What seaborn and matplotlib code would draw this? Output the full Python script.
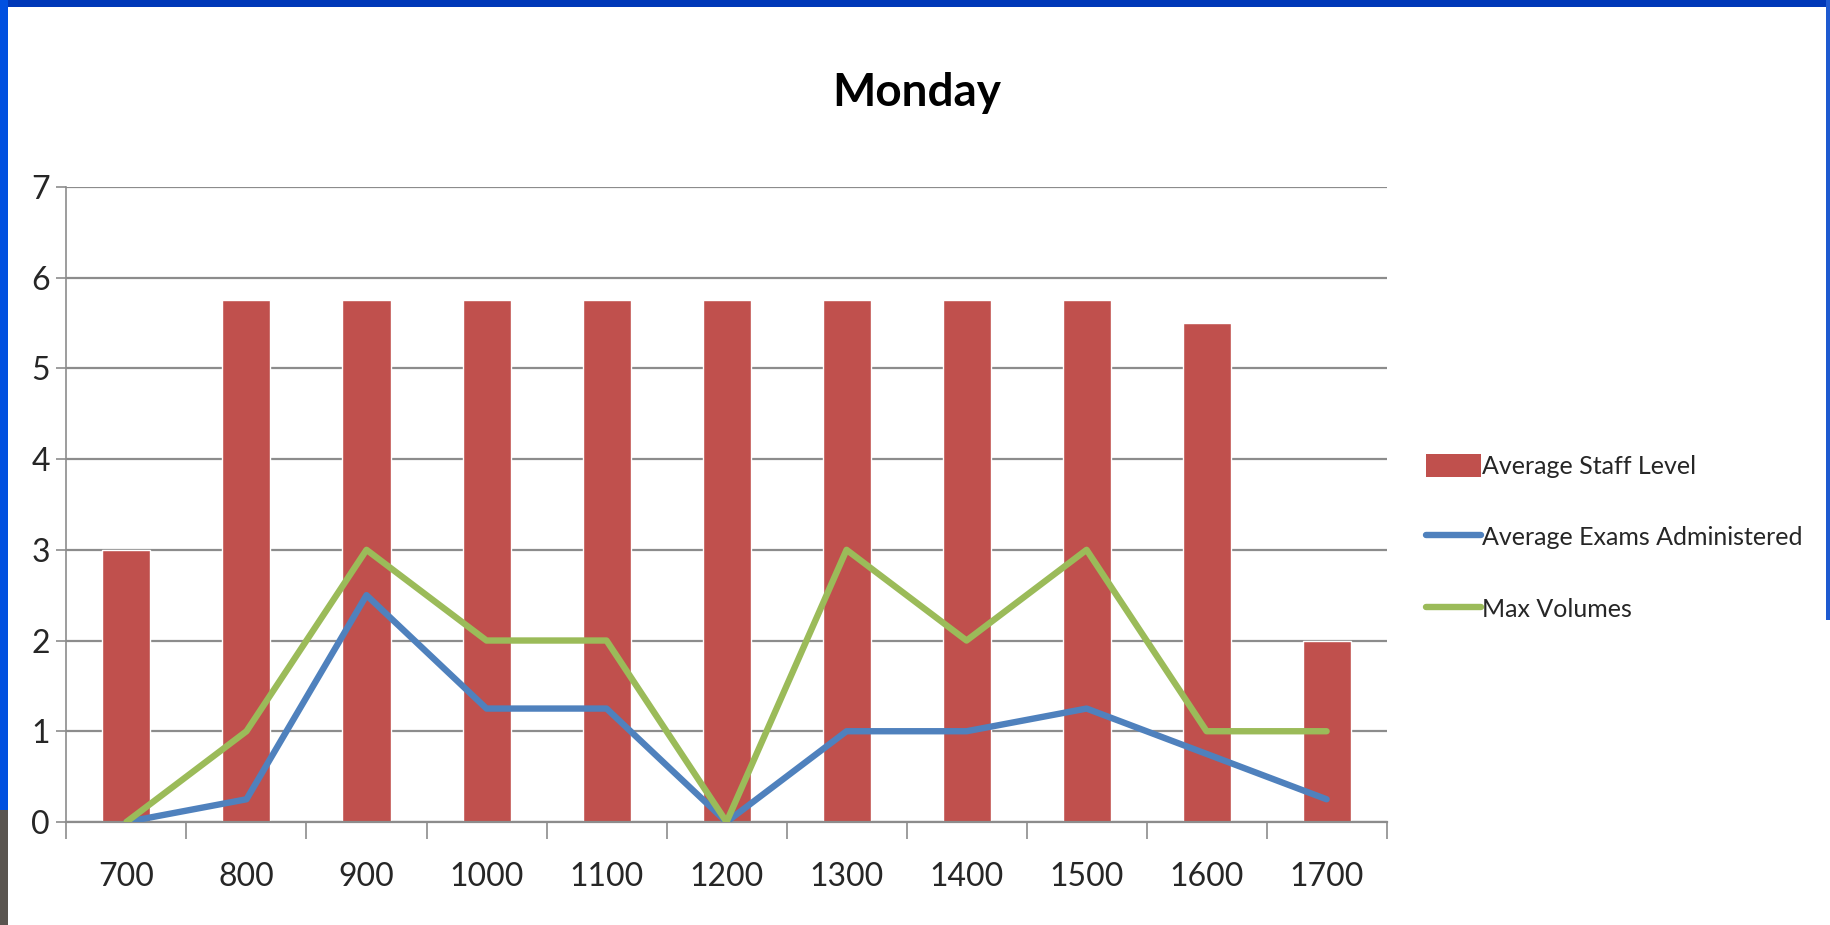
import matplotlib
matplotlib.use("Agg")
import matplotlib.pyplot as plt
import seaborn as sns
import pandas as pd
from matplotlib.patches import Patch, Rectangle
from matplotlib.lines import Line2D

# data
hours = ["700", "800", "900", "1000", "1100", "1200", "1300", "1400", "1500", "1600", "1700"]
staff_level = [3, 5.75, 5.75, 5.75, 5.75, 5.75, 5.75, 5.75, 5.75, 5.5, 2]
exams_given = [0, 0.25, 2.5, 1.25, 1.25, 0, 1, 1, 1.25, 0.75, 0.25]
max_volumes = [0, 1, 3, 2, 2, 0, 3, 2, 3, 1, 1]
series_names = ["Average Staff Level", "Average Exams Administered", "Max Volumes"]

RED = "#C0504D"
BLUE = "#4F81BD"
GREEN = "#9BBB59"
GRID = "#8C8C8C"
TXT = "#262626"

df = pd.DataFrame({"hour": hours, "staff": staff_level,
                   "exams": exams_given, "maxvol": max_volumes})

sns.set_style("white")
plt.rcParams["font.family"] = ["Lato", "DejaVu Sans"]

fig = plt.figure(figsize=(18.31, 9.25), dpi=100)
ax = fig.add_axes([0.0363, 0.1114, 0.721, 0.6865])

sns.barplot(data=df, x="hour", y="staff", color=RED, width=0.4,
            saturation=1, ax=ax, zorder=2)
sns.pointplot(data=df, x="hour", y="exams", color=BLUE, markers="",
              linewidth=4.6, errorbar=None, ax=ax, zorder=3)
sns.pointplot(data=df, x="hour", y="maxvol", color=GREEN, markers="",
              linewidth=4.6, errorbar=None, ax=ax, zorder=4)

ax.set_xlim(-0.5, len(hours) - 0.5)
ax.set_ylim(0, 7)
ax.set_yticks(range(0, 8))
ax.set_xlabel("")
ax.set_ylabel("")

# gridlines and axes styling like the spreadsheet chart
ax.grid(axis="y", color=GRID, linewidth=1.6, zorder=0)
ax.set_axisbelow(True)
for s in ["top", "right"]:
    ax.spines[s].set_visible(False)
ax.spines["left"].set_color(GRID)
ax.spines["bottom"].set_color(GRID)
ax.spines["left"].set_linewidth(1.2)
ax.spines["bottom"].set_linewidth(1.6)
ax.set_xticks([i - 0.5 for i in range(len(hours) + 1)], minor=True)
ax.tick_params(axis="x", which="minor", bottom=True, length=12, width=1.2,
               color=GRID, direction="out")
ax.tick_params(axis="x", which="major", bottom=False, length=0, pad=29,
               labelsize=23, labelcolor=TXT)
ax.tick_params(axis="y", left=True, length=7, width=1.2, color=GRID, direction="out",
               pad=5, labelsize=23, labelcolor=TXT)

fig.text(0.5005, 0.9, "Monday", ha="center", va="center", fontsize=33,
         fontweight="bold", color="black")

handles = [Patch(facecolor=RED, edgecolor="none"),
           Line2D([], [], color=BLUE, linewidth=4.6),
           Line2D([], [], color=GREEN, linewidth=4.6)]
fig.legend(handles, series_names, loc="center left", bbox_to_anchor=(0.7665, 0.419),
           frameon=False, fontsize=18, handlelength=2.2, handleheight=1.0,
           handletextpad=0.05, labelspacing=1.9, labelcolor=TXT)

# slide frame: blue along the top and left, thin blue edge at right
fig.patches.append(Rectangle((0, 0.992), 1, 0.008, transform=fig.transFigure,
                             facecolor="#0038B8", edgecolor="none"))
fig.patches.append(Rectangle((0, 0.124), 0.0045, 0.876, transform=fig.transFigure,
                             facecolor="#0050E0", edgecolor="none"))
fig.patches.append(Rectangle((0, 0), 0.0045, 0.124, transform=fig.transFigure,
                             facecolor="#5A5550", edgecolor="none"))
fig.patches.append(Rectangle((0.997, 0.33), 0.003, 0.67, transform=fig.transFigure,
                             facecolor="#1E5AD0", edgecolor="none"))

fig.savefig("out.png", dpi=100)
